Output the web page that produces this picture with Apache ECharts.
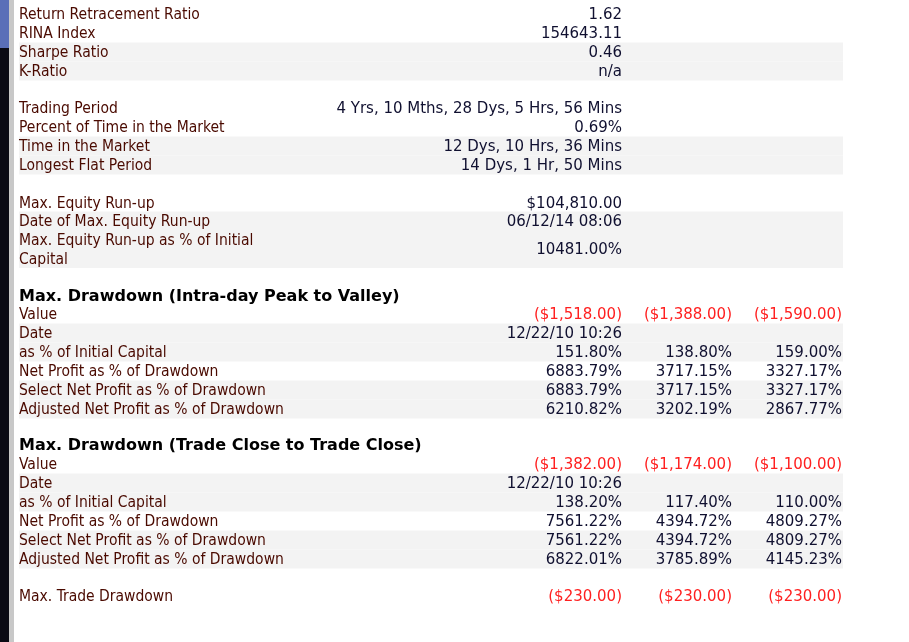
<!DOCTYPE html>
<html style="height: 100%">
  <head>
    <meta charset="UTF-8" />
    <title>Strategy performance report</title>
    <script src="https://cdn.jsdelivr.net/npm/echarts@6/dist/echarts.min.js"></script>
  </head>
  <body style="height: 100%; margin: 0; background: #fff">
    <div id="main" style="height: 100%"></div>
    <script>
      const chart = echarts.init(document.getElementById('main'))

      // row: [label, values..., centre y, shaded?, height, red values?]
      const ratioRows = [
        ['Return Retracement Ratio', ['1.62'], 14, 0],
        ['RINA Index', ['154643.11'], 33, 0],
        ['Sharpe Ratio', ['0.46'], 52, 1],
        ['K-Ratio', ['n/a'], 71, 1],
      ]
      const periodRows = [
        ['Trading Period', ['4 Yrs, 10 Mths, 28 Dys, 5 Hrs, 56 Mins'], 108, 0],
        ['Percent of Time in the Market', ['0.69%'], 127, 0],
        ['Time in the Market', ['12 Dys, 10 Hrs, 36 Mins'], 146, 1],
        ['Longest Flat Period', ['14 Dys, 1 Hr, 50 Mins'], 165, 1],
      ]
      const runupRows = [
        ['Max. Equity Run-up', ['$104,810.00'], 203, 0],
        ['Date of Max. Equity Run-up', ['06/12/14 08:06'], 221, 1],
        ['Max. Equity Run-up as % of Initial\nCapital', ['10481.00%'], 249, 1, 38],
      ]
      const intraTitle = ['Max. Drawdown (Intra-day Peak to Valley)', 296]
      const intraRows = [
        ['Value', ['($1,518.00)', '($1,388.00)', '($1,590.00)'], 314, 0, 19, 1],
        ['Date', ['12/22/10 10:26'], 333, 1],
        ['as % of Initial Capital', ['151.80%', '138.80%', '159.00%'], 352, 1],
        ['Net Profit as % of Drawdown', ['6883.79%', '3717.15%', '3327.17%'], 371, 0],
        ['Select Net Profit as % of Drawdown', ['6883.79%', '3717.15%', '3327.17%'], 390, 1],
        ['Adjusted Net Profit as % of Drawdown', ['6210.82%', '3202.19%', '2867.77%'], 409, 1],
      ]
      const closeTitle = ['Max. Drawdown (Trade Close to Trade Close)', 445]
      const closeRows = [
        ['Value', ['($1,382.00)', '($1,174.00)', '($1,100.00)'], 464, 0, 19, 1],
        ['Date', ['12/22/10 10:26'], 483, 1],
        ['as % of Initial Capital', ['138.20%', '117.40%', '110.00%'], 502, 1],
        ['Net Profit as % of Drawdown', ['7561.22%', '4394.72%', '4809.27%'], 521, 0],
        ['Select Net Profit as % of Drawdown', ['7561.22%', '4394.72%', '4809.27%'], 540, 1],
        ['Adjusted Net Profit as % of Drawdown', ['6822.01%', '3785.89%', '4145.23%'], 559, 1],
      ]
      const tradeRows = [
        ['Max. Trade Drawdown', ['($230.00)', '($230.00)', '($230.00)'], 596, 0, 19, 1],
      ]

      const colRight = [622, 732, 842]
      const labelFont = '15.5px "DejaVu Sans Condensed", sans-serif'
      const valueFont = '15px "DejaVu Sans", sans-serif'
      const els = []

      // left window edge
      els.push({ type: 'rect', shape: { x: 0, y: 0, width: 9, height: 642 }, style: { fill: '#0a0a14' } })
      els.push({ type: 'rect', shape: { x: 0, y: 0, width: 9, height: 48 }, style: { fill: '#5a6fb8' } })
      els.push({ type: 'rect', shape: { x: 9, y: 0, width: 5, height: 642 }, style: { fill: '#c8c8c8' } })

      const allRows = [].concat(ratioRows, periodRows, runupRows, intraRows, closeRows, tradeRows)
      allRows.forEach((r) => {
        const [label, vals, y, shaded, h, red] = r
        const hh = h || 19
        if (shaded) {
          els.push({ type: 'rect', shape: { x: 19, y: y - hh / 2, width: 824, height: hh },
            style: { fill: '#f3f3f3' }, z: 0 })
        }
        els.push({ type: 'text', x: 19, y: y + 1, z: 2,
          style: { text: label, font: labelFont, fill: '#4a0a00', textVerticalAlign: 'middle', lineHeight: 19 } })
        vals.forEach((v, i) => {
          els.push({ type: 'text', x: colRight[i], y: y + 1, z: 2,
            style: { text: v, font: valueFont, fill: red ? '#ff2020' : '#101030',
              textAlign: 'right', textVerticalAlign: 'middle' } })
        })
      })
      ;[intraTitle, closeTitle].forEach(([t, y]) => {
        els.push({ type: 'text', x: 19, y: y + 1, z: 2,
          style: { text: t, font: 'bold 16px "DejaVu Sans", sans-serif', fill: '#000',
            textVerticalAlign: 'middle' } })
      })

      chart.setOption({ animation: false, graphic: { elements: els } })
    </script>
  </body>
</html>
